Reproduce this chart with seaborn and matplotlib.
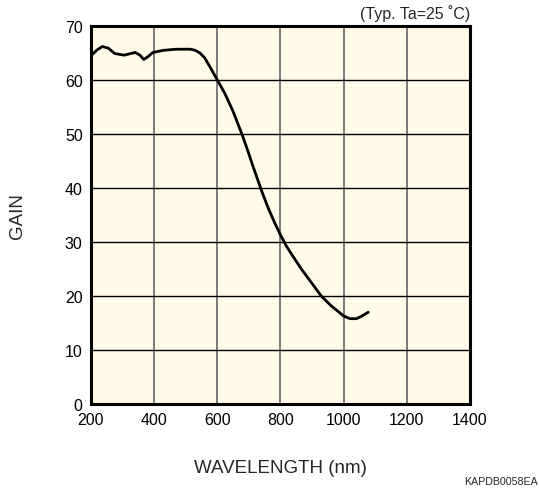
import matplotlib
matplotlib.use("Agg")
import matplotlib.pyplot as plt
import seaborn as sns
import pandas as pd

# gain curve
wavelength = [200, 220, 236, 255, 275, 305, 340, 355, 367, 380, 396, 430, 470,
              515, 530, 545, 560, 577, 600, 623, 649, 679, 697, 713, 740, 761, 782,
              800, 818, 840, 866, 900, 929, 960, 1000, 1020, 1040, 1055, 1078]
gain = [64.5, 65.6, 66.2, 65.9, 64.9, 64.6, 65.1, 64.6, 63.8, 64.3, 65.1, 65.5,
        65.7, 65.7, 65.5, 65.0, 64.1, 62.4, 60.0, 57.6, 54.3, 49.8, 46.8, 44.0,
        39.5, 36.3, 33.5, 31.3, 29.3, 27.3, 25.0, 22.3, 20.0, 18.2, 16.3, 15.8,
        15.8, 16.2, 17.0]

x_ticks = [200, 400, 600, 800, 1000, 1200, 1400]
y_ticks = [0, 10, 20, 30, 40, 50, 60, 70]

sns.set_style("white")
plt.rcParams['font.family'] = ['Liberation Sans', 'DejaVu Sans']

df = pd.DataFrame({"wavelength": wavelength, "gain": gain})

fig = plt.figure(figsize=(5.39, 4.89), dpi=100)
ax = fig.add_axes([0.1688, 0.1718, 0.7032, 0.773])
ax.set_facecolor("#FFFBE8")

for xv in x_ticks[1:-1]:
    ax.axvline(xv, color="#707070", lw=1.3, zorder=1)
for yv in y_ticks[1:-1]:
    ax.axhline(yv, color="black", lw=1.0, zorder=1)

sns.lineplot(data=df, x="wavelength", y="gain", ax=ax, color="black", lw=2.0, zorder=3)

ax.set_xlim(200, 1400)
ax.set_ylim(0, 70)
ax.set_xticks(x_ticks)
ax.set_yticks(y_ticks)
ax.tick_params(length=0, labelsize=11.5, colors="black")
ax.tick_params(axis="x", pad=6)
ax.tick_params(axis="y", pad=6)
for s in ax.spines.values():
    s.set_color("black")
    s.set_linewidth(2.2)

ax.set_xlabel("WAVELENGTH (nm)", fontsize=13.5, va="center")
ax.xaxis.set_label_coords(0.5, -0.167)
ax.set_ylabel("GAIN", fontsize=13.5, va="center")
ax.yaxis.set_label_coords(-0.195, 0.5)

ax.text(1.0, 1.035, "(Typ. Ta=25 \u02daC)", transform=ax.transAxes,
        ha="right", va="center", fontsize=11.5)
fig.text(0.998, 0.015, "KAPDB0058EA", ha="right", va="center", fontsize=7.7)

fig.savefig("out.png", dpi=100)
